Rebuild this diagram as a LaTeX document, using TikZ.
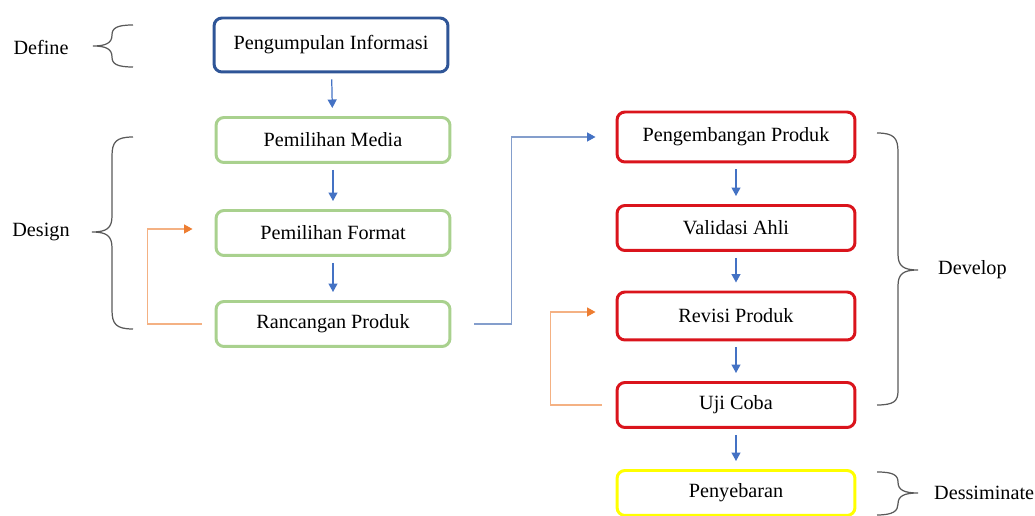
\documentclass[tikz,border=0pt]{standalone}
\usepackage{fontspec}
\setmainfont{Liberation Serif}
\usetikzlibrary{arrows.meta}

\definecolor{infoblue}{RGB}{47,85,151}
\definecolor{boxgreen}{RGB}{169,209,142}
\definecolor{boxred}{RGB}{218,20,28}
\definecolor{boxyellow}{RGB}{255,255,0}
\definecolor{arrowblue}{RGB}{68,114,196}
\definecolor{linkblue}{RGB}{132,158,204}
\definecolor{loopline}{RGB}{244,177,131}
\definecolor{looptip}{RGB}{237,125,49}
\definecolor{bracegray}{RGB}{89,89,89}

\tikzset{
    stage/.style={draw, rounded corners=0.16cm, line width=1.7pt, minimum width=4.68cm,
        minimum height=0.9cm, text=black, font=\fontsize{11.5}{14}\selectfont},
    flow/.style={color=arrowblue, line width=0.7pt, shorten <=0.12cm, shorten >=0.16cm,
        -{Triangle[width=0.18cm, length=0.17cm]}},
    link/.style={draw=linkblue, line width=0.7pt,
        -{Triangle[width=0.18cm, length=0.17cm, color=arrowblue]}},
    loop/.style={draw=loopline, line width=0.7pt,
        -{Triangle[width=0.18cm, length=0.17cm, color=looptip]}},
    brace/.style={draw=bracegray, line width=0.7pt},
    phase/.style={text=black, font=\fontsize{11.5}{14}\selectfont}
}

\begin{document}
\begin{tikzpicture}[x=0.02cm, y=-0.02cm]
            \useasboundingbox (0,0) rectangle (1035,516);

            % define
            \node[stage, draw=infoblue, minimum height=1.08cm] (11) at (331, 45) { Pengumpulan Informasi };

            % design
            \node[stage, draw=boxgreen] (21) at (333, 140) { Pemilihan Media };
            \node[stage, draw=boxgreen] (22) at (333, 233) { Pemilihan Format };
            \node[stage, draw=boxgreen] (23) at (333, 324) { Rancangan Produk };

            % develop
            \node[stage, draw=boxred, minimum width=4.76cm, minimum height=1.0cm] (31) at (736, 137) { Pengembangan Produk };
            \node[stage, draw=boxred, minimum width=4.76cm] (32) at (736, 228) { Validasi Ahli };
            \node[stage, draw=boxred, minimum width=4.76cm, minimum height=0.96cm] (33) at (736, 316) { Revisi Produk };
            \node[stage, draw=boxred, minimum width=4.76cm] (34) at (736, 405) { Uji Coba };

            % dessiminate
            \node[stage, draw=boxyellow, minimum width=4.76cm] (41) at (736, 493) { Penyebaran };

            \node[phase] (define) at (41, 47) { Define };
            \node[phase] (design) at (41, 232) { Design };
            \node[phase, anchor=west] (develop) at (932, 270) { Develop };
            \node[phase, anchor=west] (dessiminate) at (928, 493) { Dessiminate };

            \draw[brace] (133,25) .. controls (117,25) and (112,28) .. (112,35)
                .. controls (112,43) and (106,46) .. (93,46)
                .. controls (106,46) and (112,49) .. (112,57)
                .. controls (112,64) and (117,67) .. (133,67);
            \draw[brace] (133,137) .. controls (116,137) and (112,142) .. (112,156) -- (112,216)
                .. controls (112,228) and (107,232) .. (92,232)
                .. controls (107,232) and (112,236) .. (112,248) -- (112,310)
                .. controls (112,324) and (116,329) .. (133,329);
            \draw[brace] (877,133) .. controls (894,133) and (898,138) .. (898,152) -- (898,254)
                .. controls (898,266) and (903,270) .. (918,270)
                .. controls (903,270) and (898,274) .. (898,286) -- (898,391)
                .. controls (898,401) and (894,405) .. (877,405);
            \draw[brace] (877,472) .. controls (893,472) and (898,475) .. (898,482)
                .. controls (898,490) and (904,493) .. (918,493)
                .. controls (904,493) and (898,496) .. (898,504)
                .. controls (898,511) and (893,515) .. (877,515);

            \draw[flow] (11) edge (21);
            \draw[flow] (21) edge (22);
            \draw[flow] (22) edge (23);
            \draw[flow] (31) edge (32);
            \draw[flow] (32) edge (33);
            \draw[flow] (33) edge (34);
            \draw[flow] (34) edge (41);

            \draw[link, shorten <=0.46cm, shorten >=0.4cm] (23.east) -- ++(60,0) |- (31.west);
            \draw[loop, shorten <=0.26cm, shorten >=0.44cm] (23.west) -- ++(-67,0) |- ([yshift=0.08cm]22.west);
            \draw[loop, shorten <=0.28cm, shorten >=0.4cm] (34.west) -- ++(-65,0) |- ([yshift=0.08cm]33.west);
        \end{tikzpicture}
\end{document}
